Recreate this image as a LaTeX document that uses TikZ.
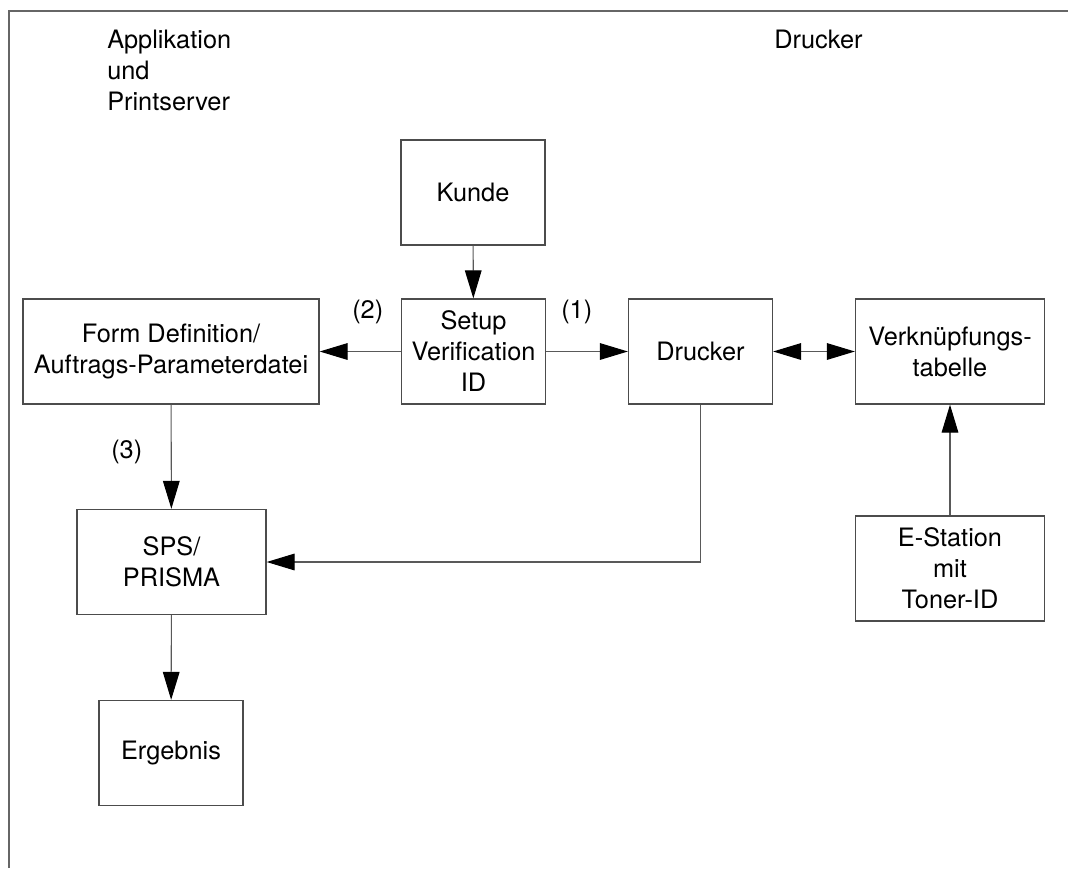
\documentclass[tikz,border=0pt]{standalone}
\usepackage{fontspec}
\setmainfont{TeX Gyre Heros}
\usetikzlibrary{arrows.meta}

\begin{document}
\begin{tikzpicture}[
  x=0.75pt, y=-0.75pt,
  txt/.style={font=\fontsize{19}{23.25}\selectfont, inner sep=0pt},
  box/.style={txt, draw=black!70, line width=1pt, align=center,
              minimum height=78.75pt},
  wS/.style={minimum width=108pt},
  wM/.style={minimum width=141.75pt},
  wL/.style={minimum width=222pt},
  conn/.style={draw=black!65, line width=0.8pt,
               -{Triangle[length=21pt, width=12.5pt, color=black]}},
  biconn/.style={draw=black!65, line width=0.8pt,
               {Triangle[length=21pt, width=12.5pt, color=black]}-{Triangle[length=21pt, width=12.5pt, color=black]}},
]
\useasboundingbox (0,0) rectangle (1068,868);

% open frame (left and top edges)
\draw[black!60, line width=1.1pt] (9,868) -- (9,11) -- (1068,11);

% column headings
\node[txt, anchor=north west, align=left] (hdrapp) at (107,30)
  {Applikation\\und\\Printserver};
\node[txt, anchor=base west] (hdrdr) at (774,48) {Drucker};

% boxes
\node[box, wS] (kunde)  at (473,192.5) {Kunde};
\node[box, wS] (setup)  at (473.5,351.5) {Setup\\Verification\\ID};
\node[box, wS] (druck)  at (700.5,351.5) {Drucker};
\node[box, wM] (verk)   at (950,351.5) {Verknüpfungs-\\tabelle};
\node[box, wL] (form)   at (171,351.5) {Form Definition/\\Auftrags-Parameterdatei};
\node[box, wM] (sps)    at (171.5,562) {SPS/\\PRISMA};
\node[box, wS] (erg)    at (171,753) {Ergebnis};
\node[box, wM] (estat)  at (950,568.5) {E-Station\\mit\\Toner-ID};

% step labels
\node[txt, anchor=base west] (l2) at (352,318) {(2)};
\node[txt, anchor=base west] (l1) at (561,318) {(1)};
\node[txt, anchor=base west] (l3) at (111,458) {(3)};

% connectors
\coordinate (bend) at (druck.south |- sps.east);
\draw[conn] (kunde) -- (setup);
\draw[conn] (setup) -- (form);
\draw[conn] (setup) -- (druck);
\draw[biconn] (druck) -- (verk);
\draw[conn] (form) -- (sps);
\draw[conn] (sps) -- (erg);
\draw[conn] (estat) -- (verk);
\draw[conn] (druck.south) -- (bend) -- (sps.east);

\end{tikzpicture}
\end{document}
